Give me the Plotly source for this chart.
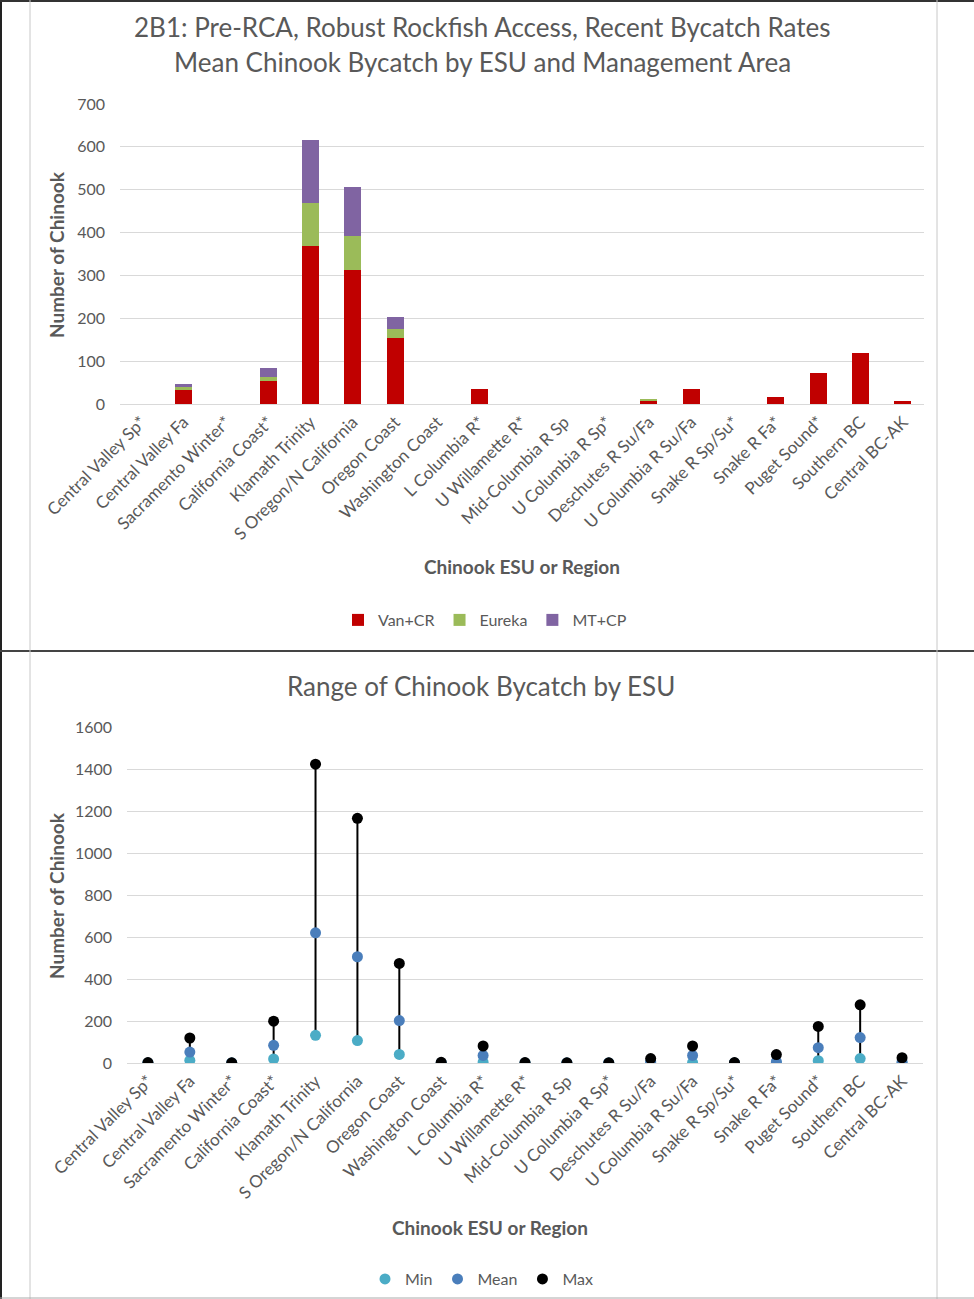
import plotly.graph_objects as go

W, H = 974, 1299
FONT = "Lato"
GRAY = "#595959"

categories = ["Central Valley Sp*", "Central Valley Fa", "Sacramento Winter*", "California Coast*",
              "Klamath Trinity", "S Oregon/N California", "Oregon Coast", "Washington Coast",
              "L Columbia R*", "U Willamette R*", "Mid-Columbia R Sp", "U Columbia R Sp*",
              "Deschutes R Su/Fa", "U Columbia R Su/Fa", "Snake R Sp/Su*", "Snake R Fa*",
              "Puget Sound*", "Southern BC", "Central BC-AK"]

van_cr = [0, 33, 0, 53, 369, 313, 153, 0, 34, 0, 0, 0, 9, 34, 0, 16, 73, 119, 8]
eureka = [0, 6, 0, 11, 99, 79, 22, 0, 0, 0, 0, 0, 2, 0, 0, 0, 0, 0, 0]
mt_cp = [0, 8, 0, 19, 149, 114, 29, 0, 0, 0, 0, 0, 0, 0, 0, 0, 0, 0, 0]

min_vals = [0, 13, 0, 19, 132, 107, 41, 0, 4, 0, 0, 0, 0, 2, 0, 0, 11, 21, 0]
mean_vals = [0, 52, 0, 84, 620, 506, 202, 0, 36, 0, 0, 0, 7, 36, 0, 6, 73, 121, 5]
max_vals = [2, 119, 1, 199, 1423, 1165, 474, 3, 81, 2, 1, 1, 21, 81, 2, 40, 174, 277, 25]

top_ticks = [0, 100, 200, 300, 400, 500, 600, 700]
bot_ticks = [0, 200, 400, 600, 800, 1000, 1200, 1400, 1600]


def fx(x):
    return x / W


def fy(y):
    return 1 - y / H


fig = go.Figure()

# Top chart: stacked bars
for name, vals, col in [("Van+CR", van_cr, "#C00000"), ("Eureka", eureka, "#9BBB59"), ("MT+CP", mt_cp, "#8064A2")]:
    fig.add_trace(go.Bar(x=categories, y=vals, name=name, marker=dict(color=col, line=dict(width=0)),
                         xaxis="x", yaxis="y", legend="legend"))

# Bottom chart: range lines
lx, ly = [], []
for c, lo, hi in zip(categories, min_vals, max_vals):
    lx += [c, c, None]
    ly += [lo, hi, None]
fig.add_trace(go.Scatter(x=lx, y=ly, mode="lines", line=dict(color="black", width=2),
                         showlegend=False, hoverinfo="skip", xaxis="x2", yaxis="y2"))
for name, vals, col in [("Min", min_vals, "#4BACC6"), ("Mean", mean_vals, "#4A7EBB"), ("Max", max_vals, "#000000")]:
    fig.add_trace(go.Scatter(x=categories, y=vals, name=name, mode="markers",
                             marker=dict(color=col, size=11), xaxis="x2", yaxis="y2", legend="legend2"))

XTICK = dict(family=FONT, size=17, color=GRAY)
YTICK = dict(family=FONT, size=16, color=GRAY)
axis_common = dict(showline=False, ticks="", fixedrange=True, automargin=False)
cat_range = [-0.5, len(categories) - 0.5]

fig.update_layout(
    width=W, height=H, margin=dict(l=0, r=0, t=0, b=0, autoexpand=False),
    paper_bgcolor="white", plot_bgcolor="white",
    font=dict(family=FONT, color=GRAY),
    barmode="stack", bargap=0.6,
    xaxis=dict(domain=[fx(120), fx(924)], anchor="y", type="category", categoryorder="array",
               categoryarray=categories, range=cat_range, tickangle=-45, tickfont=XTICK,
               showgrid=False, zeroline=False, ticklabelstandoff=4, **axis_common),
    yaxis=dict(domain=[fy(404), fy(104)], anchor="x", range=[0, 700], tickvals=top_ticks, tickfont=YTICK,
               showgrid=True, gridcolor="#D9D9D9", gridwidth=1, zeroline=True, zerolinecolor="#D9D9D9",
               zerolinewidth=1, ticklabelstandoff=14, **axis_common),
    xaxis2=dict(domain=[fx(127), fx(923)], anchor="y2", type="category", categoryorder="array",
                categoryarray=categories, range=cat_range, tickangle=-45, tickfont=XTICK,
                showgrid=False, zeroline=False, ticklabelstandoff=4, **axis_common),
    yaxis2=dict(domain=[fy(1063), fy(727)], anchor="x2", range=[0, 1600], tickvals=bot_ticks, tickfont=YTICK,
                showgrid=True, gridcolor="#D9D9D9", gridwidth=1, zeroline=True, zerolinecolor="#D9D9D9",
                zerolinewidth=1, ticklabelstandoff=14, **axis_common),
    legend=dict(orientation="h", x=fx(485), y=fy(620), xanchor="center", yanchor="middle",
                font=dict(family=FONT, size=16, color=GRAY), itemwidth=30, traceorder="normal",
                bgcolor="rgba(0,0,0,0)"),
    legend2=dict(orientation="h", x=fx(482), y=fy(1279), xanchor="center", yanchor="middle",
                 font=dict(family=FONT, size=16, color=GRAY), itemwidth=30, traceorder="normal",
                 bgcolor="rgba(0,0,0,0)"),
    showlegend=True,
)

annos = [
    dict(text="2B1: Pre-RCA, Robust Rockfish Access, Recent Bycatch Rates", x=fx(482), y=fy(27), size=26, bold=False),
    dict(text="Mean Chinook Bycatch by ESU and Management Area", x=fx(482), y=fy(62), size=26, bold=False),
    dict(text="Chinook ESU or Region", x=fx(522), y=fy(566), size=19, bold=True),
    dict(text="Range of Chinook Bycatch by ESU", x=fx(481), y=fy(686), size=26, bold=False),
    dict(text="Chinook ESU or Region", x=fx(490), y=fy(1227), size=19, bold=True),
]
for a in annos:
    fig.add_annotation(text=("<b>%s</b>" % a["text"]) if a["bold"] else a["text"], x=a["x"], y=a["y"],
                       xref="paper", yref="paper", showarrow=False, xanchor="center", yanchor="middle",
                       font=dict(family=FONT, size=a["size"], color=GRAY))
for ytxt in [255, 896]:
    fig.add_annotation(text="<b>Number of Chinook</b>", x=fx(56), y=fy(ytxt), xref="paper", yref="paper",
                       showarrow=False, textangle=-90, xanchor="center", yanchor="middle",
                       font=dict(family=FONT, size=19, color=GRAY))

# Frame lines of the screenshot
shapes = [
    dict(type="line", x0=fx(1), x1=fx(1), y0=0, y1=1, line=dict(color="#222222", width=2)),
    dict(type="line", x0=0, x1=1, y0=fy(1), y1=fy(1), line=dict(color="#333333", width=2)),
    dict(type="line", x0=0, x1=1, y0=fy(651), y1=fy(651), line=dict(color="#444444", width=2)),
    dict(type="line", x0=fx(30), x1=fx(30), y0=0, y1=1, line=dict(color="#C8C8C8", width=1)),
    dict(type="line", x0=fx(937), x1=fx(937), y0=0, y1=1, line=dict(color="#C8C8C8", width=1)),
    dict(type="line", x0=0, x1=1, y0=fy(1298), y1=fy(1298), line=dict(color="#AAAAAA", width=1)),
]
for s in shapes:
    fig.add_shape(xref="paper", yref="paper", layer="above", **s)

fig.write_html("out.html", config={"displayModeBar": False},
               post_script="document.body.style.margin='0';document.body.style.overflow='hidden';")
